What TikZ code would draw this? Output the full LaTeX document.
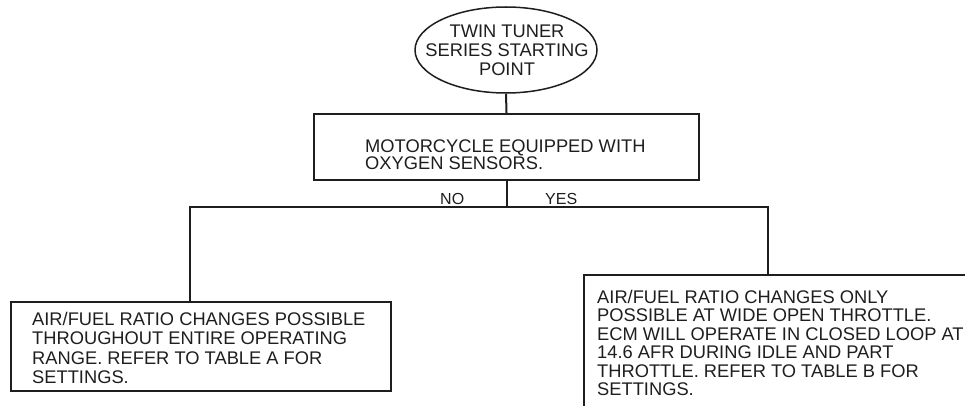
\documentclass[tikz,border=0pt]{standalone}
\usepackage{fontspec}
\setmainfont{Liberation Sans}
\usetikzlibrary{shapes.geometric}
\definecolor{ink}{HTML}{1E1E1E}
\begin{document}
\begin{tikzpicture}[x=1pt,y=-1pt,
  frame/.style={draw=ink, line width=2pt, rectangle, inner sep=0pt, anchor=north west},
  txt/.style={inner sep=0pt, align=left, anchor=north west, text=ink},
  lbl/.style={inner sep=0pt, anchor=base west, text=ink, font=\fontsize{16}{19}\selectfont},
  link/.style={draw=ink, line width=2pt}]
\useasboundingbox (0,0) rectangle (965,406);
\begin{scope}
\clip (0,0) rectangle (965,406);
% start ellipse
\node[ellipse, draw=ink, line width=1.5pt, minimum width=182pt, minimum height=86pt,
      inner sep=0pt] (start) at (506,50) {};
\node[inner sep=0pt, anchor=north, align=center, text=ink,
      font=\fontsize{18.3}{19}\selectfont] (startt) at (507,25)
      {TWIN TUNER\\SERIES STARTING\\POINT};
% question box
\node[frame, minimum width=385pt, minimum height=66pt] (q) at (313,113) {};
\node[txt, font=\fontsize{18.3}{17}\selectfont] (qt) at (365,140)
  {MOTORCYCLE EQUIPPED WITH\\OXYGEN SENSORS.};
% left result box
\node[frame, minimum width=380pt, minimum height=89pt] (a) at (10,301) {};
\node[txt, font=\fontsize{18.3}{19.5}\selectfont] (at) at (32,312)
  {AIR/FUEL RATIO CHANGES POSSIBLE\\THROUGHOUT ENTIRE OPERATING\\RANGE. REFER TO TABLE A FOR\\SETTINGS.};
% right result box (runs off the page)
\node[frame, minimum width=450pt, minimum height=200pt] (b) at (583,274) {};
\node[txt, font=\fontsize{18.3}{18.4}\selectfont] (bt) at (597,290)
  {AIR/FUEL RATIO CHANGES ONLY\\POSSIBLE AT WIDE OPEN THROTTLE.\\ECM WILL OPERATE IN CLOSED LOOP AT\\14.6 AFR DURING IDLE AND PART\\THROTTLE. REFER TO TABLE B FOR\\SETTINGS.};
% labels
\node[lbl] (no) at (440,204) {NO};
\node[lbl] (yes) at (545,204) {YES};
% connectors
\coordinate (jl) at (190,207);
\coordinate (jr) at (768,207);
\draw[link] (start.south) -- (q.north);
\draw[link] (q.south) -- (q.south |- jl);
\draw[link] (jl |- a.north) -- (jl) -- (jr) -- (jr |- b.north);
\end{scope}
\end{tikzpicture}
\end{document}
